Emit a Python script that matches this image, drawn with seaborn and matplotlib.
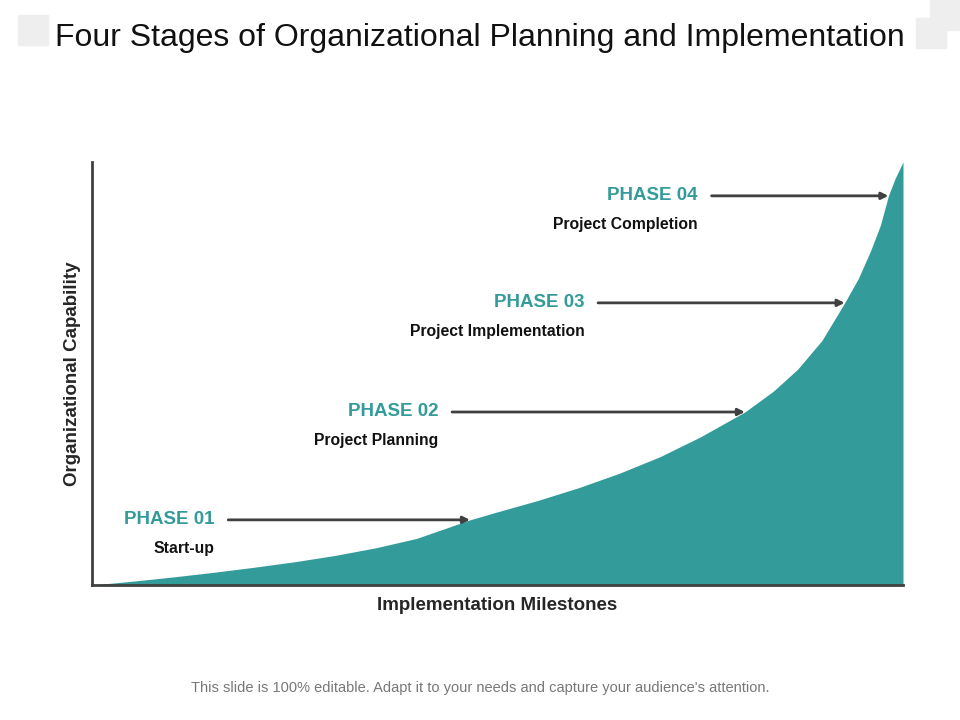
#!/usr/bin/env python3
"""Four stages of organizational planning chart."""

import matplotlib

matplotlib.use("Agg")
import matplotlib.pyplot as plt
import seaborn as sns
from matplotlib.patches import Rectangle

TEAL = "#339b9a"
DARK = "#404040"

# Curve (x: milestones 0-100, y: capability 0-100).
curve_x = [0, 5, 10, 15, 20, 25, 30, 35, 40, 46.6, 50, 55, 60, 65, 70, 75, 80.5,
           84, 87, 90, 92.8, 94.5, 96, 97.2, 98.2, 99, 100]
curve_y = [0, 0.9, 1.9, 3.0, 4.2, 5.5, 7.0, 8.8, 11.0, 15.4, 17.3, 20.0, 23.0, 26.4,
           30.3, 35.0, 40.9, 45.8, 51.0, 57.8, 66.7, 72.5, 79.0, 85.0, 92.0, 96.0, 100]

phase_names = ["PHASE 01", "PHASE 02", "PHASE 03", "PHASE 04"]
phase_desc = ["Start-up", "Project Planning", "Project Implementation", "Project Completion"]
phase_text_x = [15.1, 42.7, 60.7, 74.7]  # right edge of labels
phase_arrow_x = [46.6, 80.5, 92.8, 98.2]  # arrow tips on curve
phase_arrow_y = [15.4, 40.9, 66.7, 92.0]

sns.set_style("white")
plt.rcParams["font.family"] = "Liberation Sans"

fig = plt.figure(figsize=(9.6, 7.2), dpi=100)
ax = fig.add_axes([92 / 960, 1 - 585 / 720, 811 / 960, 423 / 720])

ax.fill_between(curve_x, curve_y, 0, color=TEAL, lw=0)
ax.set_xlim(0, 100)
ax.set_ylim(0, 100)
ax.set_xticks([])
ax.set_yticks([])
sns.despine(ax=ax)
for side in ("left", "bottom"):
    ax.spines[side].set_color(DARK)
    ax.spines[side].set_linewidth(2)

for name, desc, tx, ax_x, ay in zip(phase_names, phase_desc, phase_text_x, phase_arrow_x, phase_arrow_y):
    ax.text(tx, ay, name, ha="right", va="center", color=TEAL, fontsize=13.5, fontweight="bold")
    ax.text(tx, ay - 6.8, desc, ha="right", va="center", color="#111111", fontsize=11.3, fontweight="bold")
    ax.annotate(
        "", xy=(ax_x, ay), xytext=(tx + 1.7, ay),
        arrowprops=dict(arrowstyle="-|>", color=DARK, lw=2, mutation_scale=10, shrinkA=0, shrinkB=0),
    )

ax.set_xlabel("Implementation Milestones", fontsize=13.5, fontweight="bold", labelpad=9)
ax.set_ylabel("Organizational Capability", fontsize=13.5, fontweight="bold", labelpad=8)

fig.text(0.5, 1 - 38 / 720, "Four Stages of Organizational Planning and Implementation",
         ha="center", va="center", fontsize=23, color="#111111")
fig.text(0.5, 1 - 688 / 720,
         "This slide is 100% editable. Adapt it to your needs and capture your audience's attention.",
         ha="center", va="center", fontsize=10.5, color="#777777")

for x0, y0 in [(18, 15), (916, 18), (930, 0)]:
    fig.patches.append(Rectangle((x0 / 960, 1 - (y0 + 30) / 720), 30 / 960, 30 / 720,
                                 transform=fig.transFigure, color="#eeeeee", zorder=0))

fig.savefig("out.png", dpi=100)
